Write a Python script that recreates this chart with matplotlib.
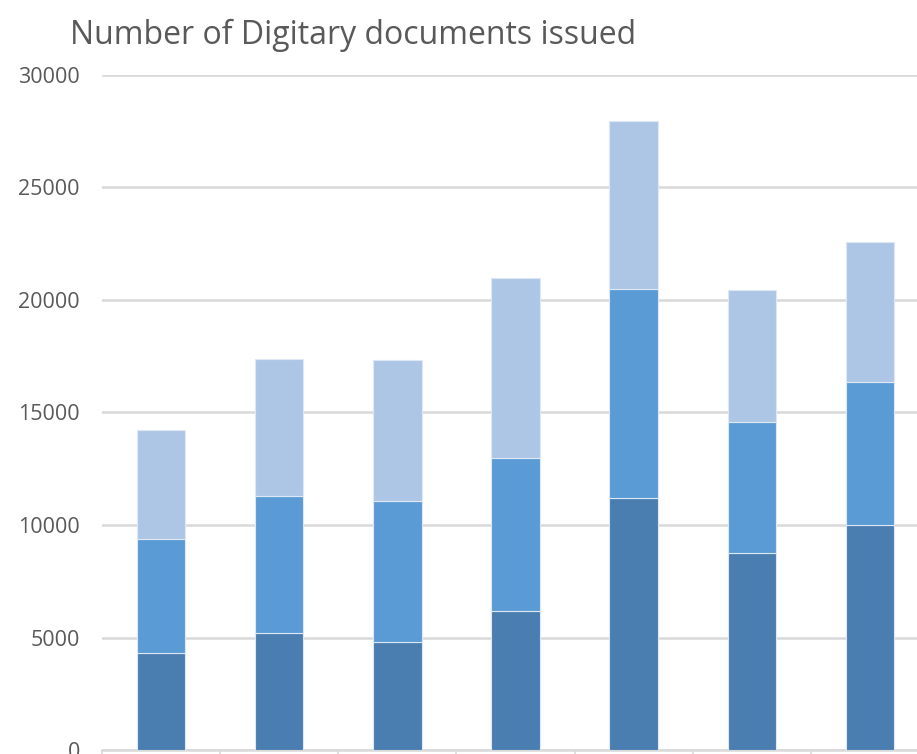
import matplotlib.pyplot as plt
import numpy as np

plt.rcParams['font.family'] = ['Open Sans', 'DejaVu Sans']

# three stacked series per bar (bottom -> top)
series_bottom = [4310, 5180, 4820, 6190, 11220, 8750, 9990]
series_middle = [5050, 6100, 6260, 6790, 9290, 5820, 6380]
series_top = [4870, 6090, 6260, 8010, 7450, 5870, 6220]
yticks = [0, 5000, 10000, 15000, 20000, 25000, 30000]

colors = ['#4A7EB0', '#5B9BD5', '#AEC6E6']

fig = plt.figure(figsize=(9.17, 7.54), dpi=100)
ax = fig.add_axes([102/917, 1 - 750/754, 827/917, 675/754])

x = np.arange(len(series_bottom))
bottom = np.zeros(len(x))
for vals, c in zip([series_bottom, series_middle, series_top], colors):
    ax.bar(x, vals, width=0.41, bottom=bottom, color=c,
           edgecolor='#DCE8F5', linewidth=0.8, zorder=3)
    bottom += np.array(vals)

ax.set_xlim(-0.5, len(x) - 0.5)
ax.set_ylim(0, 30000)
ax.set_yticks(yticks)
ax.set_yticklabels([str(v) for v in yticks], fontsize=15.5, color='#595959')
ax.tick_params(axis='y', length=0, pad=16)
ax.yaxis.grid(True, color='#D9D9D9', linewidth=1.8, zorder=0)

ax.set_xticks(np.arange(-0.5, len(x) + 0.5, 1))
ax.set_xticklabels([])
ax.tick_params(axis='x', length=6, width=1.2, color='#D9D9D9')

for s in ['top', 'right', 'left']:
    ax.spines[s].set_visible(False)
ax.spines['bottom'].set_color('#D9D9D9')
ax.spines['bottom'].set_linewidth(1.8)

fig.text(70/917, 1 - 44/754, 'Number of Digitary documents issued',
         fontsize=23, color='#595959', ha='left', va='baseline')

fig.savefig('out.png', dpi=100)
